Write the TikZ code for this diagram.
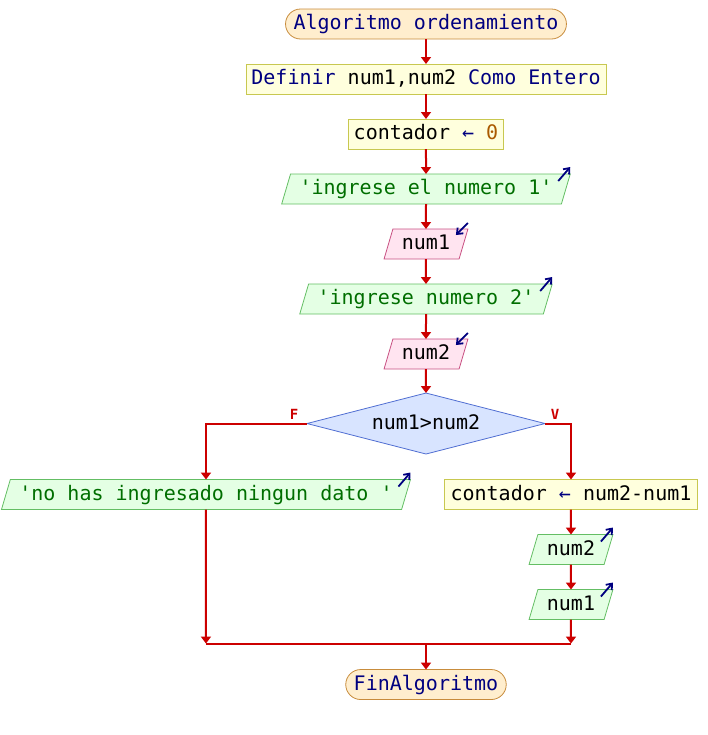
\documentclass[tikz,border=0pt]{standalone}
\usepackage{fontspec}
\setmonofont{DejaVu Sans Mono}
\usepackage{xcolor}
\usetikzlibrary{arrows.meta, positioning, shapes.geometric, calc}

\definecolor{flowred}{RGB}{204,0,0}
\definecolor{kwblue}{RGB}{0,0,128}
\definecolor{strgreen}{RGB}{0,110,0}
\definecolor{numbrown}{RGB}{170,90,0}
\definecolor{termfill}{RGB}{255,238,206}
\definecolor{termdraw}{RGB}{200,140,60}
\definecolor{procfill}{RGB}{255,255,221}
\definecolor{procdraw}{RGB}{200,200,80}
\definecolor{outfill}{RGB}{228,255,228}
\definecolor{outdraw}{RGB}{100,190,100}
\definecolor{infill}{RGB}{255,228,240}
\definecolor{indraw}{RGB}{200,80,130}
\definecolor{condfill}{RGB}{216,228,255}
\definecolor{conddraw}{RGB}{80,110,210}

\begin{document}
\begin{tikzpicture}[
        node distance=12.5pt,
        every node/.style={font=\ttfamily\fontsize{10}{12}\selectfont, text height=7.5pt, text depth=2pt, outer sep=0pt},
        term/.style={rectangle, rounded corners=7.5pt, draw=termdraw, fill=termfill, minimum height=15pt, inner xsep=4pt, inner ysep=0pt},
        proc/.style={rectangle, draw=procdraw, fill=procfill, minimum height=15pt, inner xsep=2.7pt, inner ysep=0pt},
        outp/.style={trapezium, trapezium left angle=65, trapezium right angle=115, trapezium stretches body=true, draw=outdraw, fill=outfill, minimum height=15pt, inner xsep=4.5pt, inner ysep=0pt},
        inp/.style={outp, draw=indraw, fill=infill},
        cond/.style={diamond, aspect=3.9, draw=conddraw, fill=condfill, minimum width=119pt, minimum height=30.5pt, inner sep=0pt},
        arrow/.style={-{Triangle[length=3.5pt, width=5pt]}, line width=1pt, draw=flowred},
        line/.style={line width=1pt, draw=flowred},
        outmark/.style={-{Straight Barb[length=2.5pt, width=4pt]}, line width=0.9pt, draw=kwblue},
        branch/.style={font=\ttfamily\bfseries\fontsize{7}{8}\selectfont, text=flowred, inner sep=0pt},
    ]
        \useasboundingbox (-213pt,12pt) rectangle (141pt,-355.5pt);

        % Main column
        \node[term] (start) at (0,0) {\textcolor{kwblue}{Algoritmo ordenamiento}};
        \node[proc, below=of start] (def) {\textcolor{kwblue}{Definir} num1,num2 \textcolor{kwblue}{Como Entero}};
        \node[proc, below=of def] (cnt) {contador \textcolor{kwblue}{←} \textcolor{numbrown}{0}};
        \node[outp, below=of cnt] (o1) {\textcolor{strgreen}{'ingrese el numero 1'}};
        \node[inp, below=of o1] (i1) {num1};
        \node[outp, below=of i1] (o2) {\textcolor{strgreen}{'ingrese numero 2'}};
        \node[inp, below=of o2] (i2) {num2};
        \node[cond, below=12pt of i2] (dec) {num1>num2};

        % Branches
        \coordinate (fL) at ([xshift=-50.5pt]dec.west);
        \coordinate (fR) at ([xshift=13pt]dec.east);
        \node[outp, below=28pt of fL] (msg) {\textcolor{strgreen}{'no has ingresado ningun dato '}};
        \node[proc, inner xsep=3pt, below=28pt of fR] (asig) {contador \textcolor{kwblue}{←} num2-num1};
        \node[outp, below=of asig] (n2o) {num2};
        \node[outp, below=of n2o] (n1o) {num1};
        \node[branch] (lblF) at ([shift={(-6.5pt,5pt)}]dec.west) {F};
        \node[branch] (lblV) at ([shift={(5pt,5pt)}]dec.east) {V};

        % Merge and end
        \coordinate[below=12pt of n1o] (mR);
        \coordinate (mL) at (msg |- mR);
        \coordinate (mC) at (dec |- mR);
        \node[term, below=13pt of mC] (fin) {\textcolor{kwblue}{FinAlgoritmo}};

        % Arrows
        \draw[arrow] (start) -- (def);
        \draw[arrow] (def) -- (cnt);
        \draw[arrow] (cnt) -- (o1);
        \draw[arrow] (o1) -- (i1);
        \draw[arrow] (i1) -- (o2);
        \draw[arrow] (o2) -- (i2);
        \draw[arrow] (i2) -- (dec);
        \draw[arrow] (dec.west) -| (msg);
        \draw[arrow] (dec.east) -| (asig);
        \draw[arrow] (asig) -- (n2o);
        \draw[arrow] (n2o) -- (n1o);
        \draw[arrow] (msg) -- (mL);
        \draw[arrow] (n1o) -- (mR);
        \draw[line] (mL) -- (mR);
        \draw[arrow] (mC) -- (fin);

        % Output and input marks
        \draw[outmark] ([shift={(-6pt,-3.5pt)}]o1.top right corner) -- ++(6pt,7pt);
        \draw[outmark] ([shift={(-6pt,-3.5pt)}]o2.top right corner) -- ++(6pt,7pt);
        \draw[outmark] ([shift={(-6pt,-3.5pt)}]msg.top right corner) -- ++(6pt,7pt);
        \draw[outmark] ([shift={(-6pt,-3.5pt)}]n2o.top right corner) -- ++(6pt,7pt);
        \draw[outmark] ([shift={(-6pt,-3.5pt)}]n1o.top right corner) -- ++(6pt,7pt);
        \draw[outmark] ([shift={(0pt,3pt)}]i1.top right corner) -- ++(-6pt,-6pt);
        \draw[outmark] ([shift={(0pt,3pt)}]i2.top right corner) -- ++(-6pt,-6pt);
    \end{tikzpicture}
\end{document}
